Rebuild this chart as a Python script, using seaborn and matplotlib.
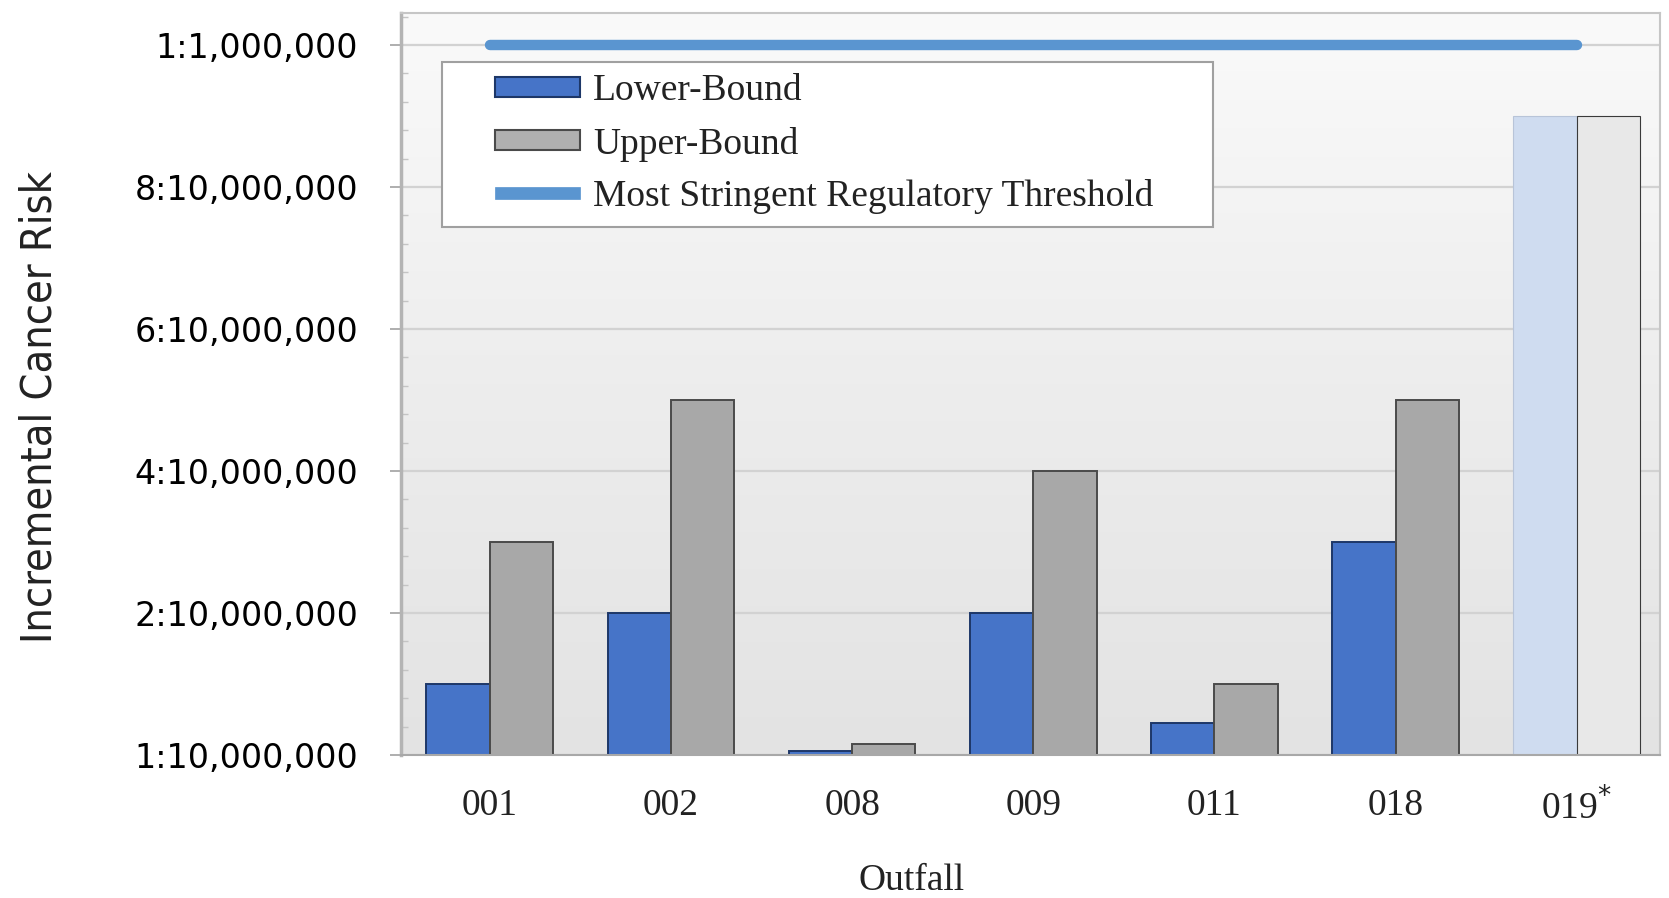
import numpy as np
import pandas as pd
import matplotlib
matplotlib.use("Agg")
import matplotlib.pyplot as plt
import seaborn as sns
from matplotlib.patches import Patch, Rectangle
from matplotlib.legend_handler import HandlerPatch
from matplotlib.ticker import MultipleLocator
from matplotlib.colors import LinearSegmentedColormap

# ---------------- data ----------------
outfalls = ["001", "002", "008", "009", "011", "018", "019"]
lower_bound = [1.0, 2.0, 0.05, 2.0, 0.45, 3.0, 9.0]
upper_bound = [3.0, 5.0, 0.15, 4.0, 1.0, 5.0, 9.0]
threshold = 10.0
series_names = ["Lower-Bound", "Upper-Bound"]
threshold_name = "Most Stringent Regulatory Threshold"
ytick_values = [0, 2, 4, 6, 8, 10]
ytick_labels = ["1:10,000,000", "2:10,000,000", "4:10,000,000",
                "6:10,000,000", "8:10,000,000", "1:1,000,000"]
xtick_labels = ["001", "002", "008", "009", "011", "018", "019$^{*}$"]

df = pd.DataFrame({
    "Outfall": outfalls * 2,
    "Risk": lower_bound + upper_bound,
    "Bound": [series_names[0]] * len(outfalls) + [series_names[1]] * len(outfalls),
})

# ---------------- style ----------------
sns.set_theme(style="white")
plt.rcParams["font.family"] = ["DejaVu Sans"]

blue = "#4674c8"
blue_edge = "#1d3768"
gray = "#a8a8a8"
gray_edge = "#4a4a4a"
light_blue = "#cfdcf0"
light_gray = "#e8e8e8"
line_color = "#5a95d0"

W, H = 1669, 898
fig = plt.figure(figsize=(W / 100, H / 100), dpi=100)
ax_l, ax_r, ax_t, ax_b = 401, 1660, 13, 755
ax = fig.add_axes([ax_l / W, 1 - ax_b / H, (ax_r - ax_l) / W, (ax_b - ax_t) / H])

xlim = (-0.49, 6.46)
ylim = (0, 10.45)

# gradient plot-area background
grad = np.linspace(0, 1, 256).reshape(-1, 1)
bg_cmap = LinearSegmentedColormap.from_list("bg", ["#e3e3e3", "#ededed", "#fafafa"])
ax.imshow(grad, extent=[xlim[0], xlim[1], ylim[0], ylim[1]], aspect="auto",
          cmap=bg_cmap, origin="lower", zorder=0)

ax.set_axisbelow(True)
ax.yaxis.grid(True, which="major", color="#d2d2d2", lw=1.6, zorder=0.5)

sns.barplot(data=df, x="Outfall", y="Risk", hue="Bound", order=outfalls,
            hue_order=series_names, palette=[blue, gray], saturation=1,
            width=0.7, ax=ax, legend=False, zorder=2)

edges = [blue_edge, gray_edge]
lights = [light_blue, light_gray]
for i, cont in enumerate(ax.containers):
    for j, bar in enumerate(cont):
        bar.set_edgecolor(edges[i])
        bar.set_linewidth(1.4)
        bar.set_zorder(2)
        if j == len(outfalls) - 1:
            bar.set_facecolor(lights[i])
            bar.set_edgecolor("#b8c4d8" if i == 0 else "#3a3a3a")
            bar.set_linewidth(0.8)

# threshold line across categories
ax.plot([0, len(outfalls) - 1], [threshold, threshold], color=line_color,
        lw=7.5, solid_capstyle="round", zorder=3)

ax.set_xlim(*xlim)
ax.set_ylim(*ylim)

# y axis
ax.set_yticks(ytick_values)
ax.set_yticklabels(ytick_labels, fontsize=24, family="DejaVu Sans")
ax.yaxis.set_minor_locator(MultipleLocator(0.4))
ax.tick_params(axis="y", which="major", left=True, direction="out", length=8,
               width=1.3, color="#a8a8a8", pad=23, labelcolor="black")
ax.tick_params(axis="y", which="minor", left=True, direction="in", length=5,
               width=1.0, color="#c4c4c4")

# x axis
ax.set_xticks(range(len(outfalls)))
ax.set_xticklabels(xtick_labels, fontsize=27, family="Liberation Serif")
ax.tick_params(axis="x", which="both", bottom=False, length=0, pad=24,
               labelcolor="#222222")

ax.set_xlabel("Outfall", fontsize=27, family="Liberation Serif", color="#222222")
ax.xaxis.set_label_coords((912 - ax_l) / (ax_r - ax_l), (ax_b - 863) / (ax_b - ax_t))
ax.set_ylabel("Incremental Cancer Risk", fontsize=31, fontstretch="condensed",
              family=["Liberation Sans Narrow", "DejaVu Sans"], color="#222222")
ax.yaxis.set_label_coords((61 - ax_l) / (ax_r - ax_l), (ax_b - 407) / (ax_b - ax_t))

for side, sp in ax.spines.items():
    sp.set_visible(True)
    sp.set_color("#c6c6c6")
    sp.set_linewidth(1.5)
ax.spines["left"].set_color("#b4b4b4")
ax.spines["left"].set_linewidth(2.5)
ax.spines["bottom"].set_color("#a8a8a8")

# ---------------- legend ----------------
def make_patch_func(frac_w, frac_h):
    def func(legend, orig_handle, xdescent, ydescent, width, height, fontsize):
        w = width * frac_w
        h = height * frac_h
        return Rectangle((-xdescent + width - w, -ydescent + (height - h) / 2), w, h)
    return func

h_lower = Patch(facecolor=blue, edgecolor=blue_edge, lw=1.5)
h_upper = Patch(facecolor="#b0b0b0", edgecolor=gray_edge, lw=1.5)
h_line = Patch(facecolor=line_color, edgecolor=line_color, lw=0.5)

leg = fig.legend(
    [h_lower, h_upper, h_line], series_names + [threshold_name],
    handler_map={h_lower: HandlerPatch(patch_func=make_patch_func(0.675, 1.0)),
                 h_upper: HandlerPatch(patch_func=make_patch_func(0.675, 1.0)),
                 h_line: HandlerPatch(patch_func=make_patch_func(0.675, 0.6))},
    loc="upper left",
    bbox_to_anchor=(442 / W, 1 - 62 / H, (1213 - 442) / W, 0.0),
    bbox_transform=fig.transFigure, mode="expand",
    prop={"family": "Liberation Serif", "size": 27},
    frameon=True, fancybox=False, edgecolor="#a0a0a0", framealpha=1,
    facecolor="white", handlelength=3.36, handleheight=0.42,
    handletextpad=0.35, labelspacing=0.48, borderpad=0.32, borderaxespad=0,
)
leg.get_frame().set_linewidth(1.5)
for t in leg.get_texts():
    t.set_color("#222222")

fig.savefig("out.png", dpi=100, facecolor="white")
